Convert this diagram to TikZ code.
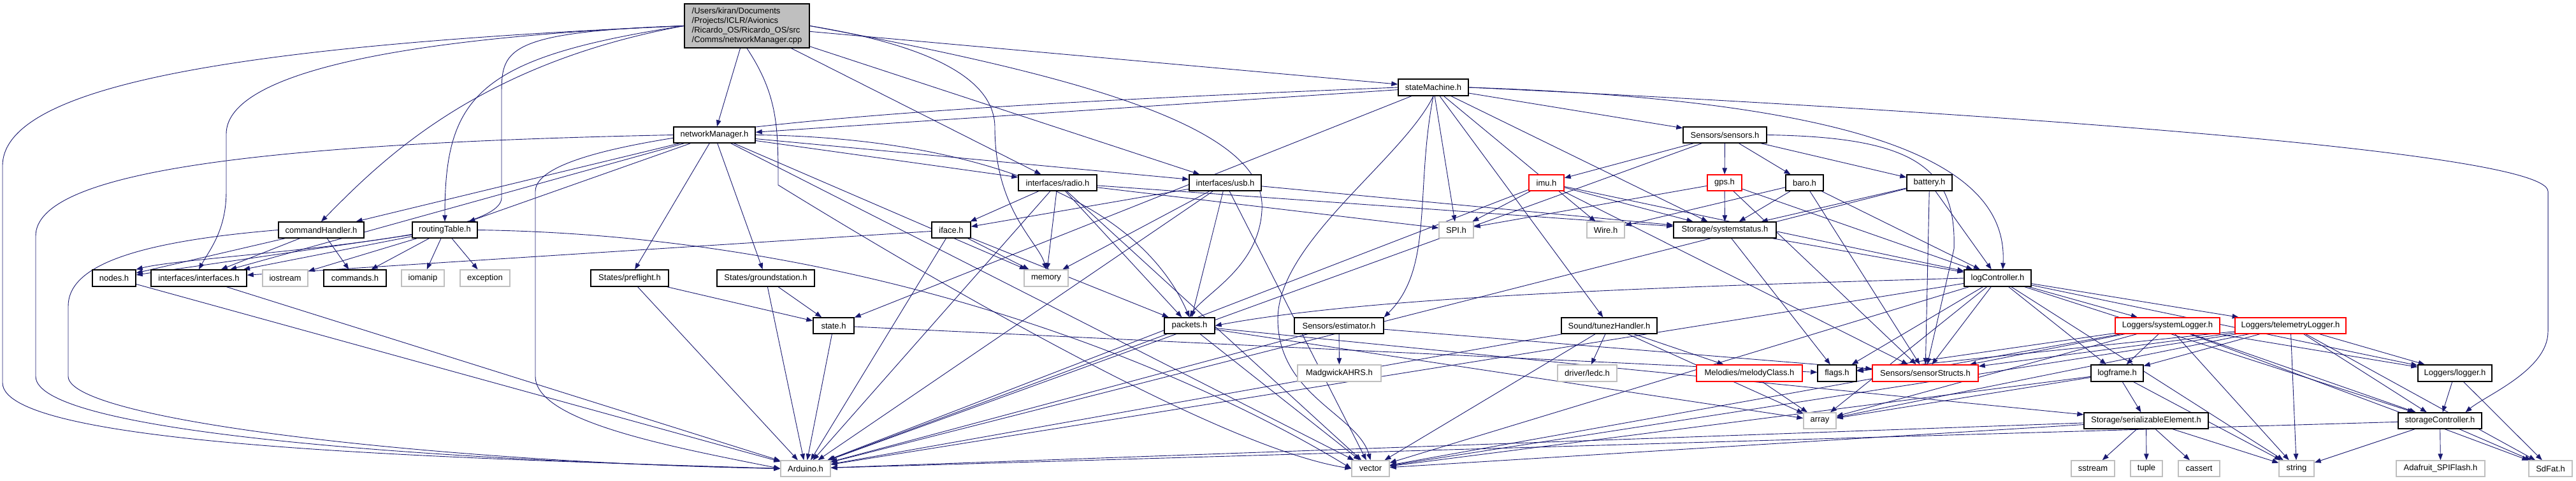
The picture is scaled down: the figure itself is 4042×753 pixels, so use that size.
\documentclass[tikz,border=0pt]{standalone}
\usepackage{fontspec}
\setmainfont{Liberation Sans}
\usetikzlibrary{arrows.meta}
\definecolor{edgec}{HTML}{191970}
\definecolor{grayb}{HTML}{BFBFBF}
\pgfdeclarelayer{edges}
\pgfsetlayers{edges,main}
\tikzset{
  box/.style={draw=black,line width=1.4pt,fill=white,inner sep=0pt,font=\fontsize{13}{15}\selectfont},
  gbox/.style={box,draw=grayb},
  rbox/.style={box,draw=red},
  rootbox/.style={box,fill=grayb,align=left},
  e/.style={draw=edgec,line width=0.9pt,-{Triangle[length=10pt,width=7.5pt]}},
}
\newcommand{\hnode}[7][box]{\node[#1,minimum width={#5-#4},minimum height={#7-#6}] (#2) at ({(#4+#5)/2},{(#6+#7)/2}) {#3};}
\begin{document}
\begin{tikzpicture}[x=1pt,y=-1pt]
\useasboundingbox (0,0) rectangle (4042,753);
% ---------------- nodes
\hnode[rootbox]{r}{/Users/kiran/Documents\\/Projects/ICLR/Avionics\\/Ricardo\_OS/Ricardo\_OS/src\\/Comms/networkManager.cpp}{1074}{1270}{6}{75}
\hnode{sm}{stateMachine.h}{2194}{2304}{124}{150}
\hnode{nm}{networkManager.h}{1057}{1185}{199}{224}
\hnode{sens}{Sensors/sensors.h}{2641}{2772}{199}{224}
\hnode{radio}{interfaces/radio.h}{1598}{1721}{274}{299}
\hnode{usb}{interfaces/usb.h}{1866}{1979}{274}{299}
\hnode[rbox]{imu}{imu.h}{2399}{2454}{274}{299}
\hnode[rbox]{gps}{gps.h}{2679}{2733}{274}{299}
\hnode{baro}{baro.h}{2802}{2861}{274}{299}
\hnode{bat}{battery.h}{2992}{3063}{274}{299}
\hnode{ch}{commandHandler.h}{437}{571}{348}{373}
\hnode{rt}{routingTable.h}{647}{749}{348}{373}
\hnode{iface}{iface.h}{1462}{1523}{348}{373}
\hnode[gbox]{spi}{SPI.h}{2258}{2312}{348}{373}
\hnode[gbox]{wire}{Wire.h}{2490}{2549}{348}{373}
\hnode{sys}{Storage/systemstatus.h}{2626}{2787}{348}{373}
\hnode{nodes}{nodes.h}{145}{213}{423}{449}
\hnode{ifs}{interfaces/interfaces.h}{237}{387}{423}{449}
\hnode[gbox]{iostr}{iostream}{412}{483}{423}{449}
\hnode{cmds}{commands.h}{508}{606}{423}{449}
\hnode[gbox]{iomanip}{iomanip}{630}{697}{423}{449}
\hnode[gbox]{exc}{exception}{722}{800}{423}{449}
\hnode{pre}{States/preflight.h}{927}{1049}{423}{449}
\hnode{gnd}{States/groundstation.h}{1125}{1278}{423}{449}
\hnode[gbox]{mem}{memory}{1607}{1676}{423}{449}
\hnode{log}{logController.h}{3082}{3187}{423}{449}
\hnode{state}{state.h}{1276}{1340}{498}{523}
\hnode{pkt}{packets.h}{1827}{1906}{498}{523}
\hnode{est}{Sensors/estimator.h}{2031}{2171}{498}{523}
\hnode{tunez}{Sound/tunezHandler.h}{2450}{2600}{498}{523}
\hnode[rbox]{syslog}{Loggers/systemLogger.h}{3319}{3483}{498}{523}
\hnode[rbox]{tellog}{Loggers/telemetryLogger.h}{3507}{3681}{498}{523}
\hnode[gbox]{madg}{MadgwickAHRS.h}{2036}{2167}{572}{598}
\hnode[gbox]{ledc}{driver/ledc.h}{2444}{2537}{572}{598}
\hnode[rbox]{melody}{Melodies/melodyClass.h}{2662}{2828}{572}{598}
\hnode{flags}{flags.h}{2852}{2913}{572}{598}
\hnode[rbox]{sstr}{Sensors/sensorStructs.h}{2938}{3104}{572}{598}
\hnode{lframe}{logframe.h}{3281}{3363}{572}{598}
\hnode{logger}{Loggers/logger.h}{3794}{3910}{572}{598}
\hnode[gbox]{array}{array}{2830}{2881}{647}{672}
\hnode{ser}{Storage/serializableElement.h}{3270}{3465}{647}{672}
\hnode{stc}{storageController.h}{3763}{3894}{647}{672}
\hnode[gbox]{ard}{Arduino.h}{1225}{1303}{722}{747}
\hnode[gbox]{vec}{vector}{2121}{2180}{722}{747}
\hnode[gbox]{sstream}{sstream}{3250}{3318}{722}{747}
\hnode[gbox]{tuple}{tuple}{3343}{3393}{722}{747}
\hnode[gbox]{cassert}{cassert}{3418}{3483}{722}{747}
\hnode[gbox]{string}{string}{3576}{3631}{722}{747}
\hnode[gbox]{ada}{Adafruit\_SPIFlash.h}{3760}{3899}{722}{747}
\hnode[gbox]{sdfat}{SdFat.h}{3968}{4036}{722}{747}
\begin{pgfonlayer}{edges}
% ---------------- edges: root
\draw[e] (r) -- (nm);
\draw[e] (r) -- (sm);
\draw[e] (r.west) .. controls (400,70) and (4,130) .. (4,260) -- (4,600) .. controls (4,700) and (700,718) .. (ard.west);
\draw[e] (r.west) .. controls (600,60) and (355,120) .. (355,210) -- (355,300) .. controls (355,360) and (330,390) .. (ifs.north);
\draw[e] (r.west) .. controls (787,50) and (787,80) .. (787,150) -- (787,310) .. controls (787,380) and (300,400) .. (nodes.north east);
\draw[e] (r.west) .. controls (750,100) and (600,250) .. (ch.north);
\draw[e] (r.west) .. controls (750,90) and (698,150) .. (rt.north);
\draw[e] (r.east) .. controls (1450,70) and (1561,120) .. (1561,200) .. controls (1561,330) and (1630,380) .. (mem.north);
\draw[e] (r) -- (radio);
\draw[e] (r) -- (usb);
\draw[e] (r.east) .. controls (1700,120) and (1990,200) .. (1980,330) .. controls (1975,420) and (1890,460) .. (pkt.north);
\draw[e] (r.south) .. controls (1221,150) and (1221,200) .. (1221,290) .. controls (1400,400) and (1900,700) .. (vec.west);
% networkManager
\draw[e] (nm.west) .. controls (400,225) and (56,270) .. (56,370) -- (56,590) .. controls (56,680) and (700,722) .. (ard.west);
\draw[e] (nm) -- (ch);
\draw[e] (nm) -- (rt);
\draw[e] (nm) -- (ifs);
\draw[e] (nm) -- (pre);
\draw[e] (nm) -- (gnd);
\draw[e] (nm) -- (radio);
\draw[e] (nm) -- (usb);
\draw[e] (nm.east) .. controls (1500,215) and (1780,300) .. (pkt.north);
\draw[e] (nm) -- (mem);
\draw[e] (nm) -- (vec);
% stateMachine
\draw[e] (sm) -- (nm);
\draw[e] (sm.west) .. controls (1500,165) and (840,200) .. (840,300) -- (840,590) .. controls (840,660) and (1050,700) .. (ard.west);
\draw[e] (sm) -- (state);
\draw[e] (sm.south) .. controls (2200,250) and (2005,380) .. (2005,500) .. controls (2005,620) and (2130,650) .. (vec.north);
\draw[e] (sm.south) .. controls (2220,300) and (2250,420) .. (est.north east);
\draw[e] (sm) -- (spi);
\draw[e] (sm) -- (wire);
\draw[e] (sm) -- (sys);
\draw[e] (sm) -- (sens);
\draw[e] (sm.east) .. controls (3000,160) and (3150,280) .. ([xshift=8pt]log.north);
\draw[e] (sm.east) .. controls (2900,165) and (3998,230) .. (3998,300) -- (3998,520) .. controls (3998,580) and (3900,620) .. ([xshift=40pt]stc.north);
\draw[e] (sm) -- (tunez);
% commandHandler, routingTable
\draw[e] (ch) -- (nodes);
\draw[e] (ch) -- (ifs);
\draw[e] (ch) -- (cmds);
\draw[e] (ch.west) .. controls (200,380) and (107,420) .. (107,480) -- (107,590) .. controls (107,660) and (700,725) .. (ard.west);
\draw[e] (rt) -- (nodes);
\draw[e] (rt) -- (ifs);
\draw[e] (rt) -- (iostr);
\draw[e] (rt) -- (iomanip);
\draw[e] (rt) -- (exc);
\draw[e] (rt) -- (cmds);
\draw[e] (rt.east) .. controls (1400,370) and (1900,600) .. (vec.west);
% iface, radio, usb
\draw[e] (iface) -- (ifs);
\draw[e] (iface) -- (mem);
\draw[e] (iface) -- (pkt);
\draw[e] (iface) -- (ard);
\draw[e] (radio) -- (iface);
\draw[e] (radio) -- (mem);
\draw[e] (radio) -- (pkt);
\draw[e] (radio) -- (spi);
\draw[e] (radio) -- (sys);
\draw[e] (radio) -- (vec);
\draw[e] (radio) -- (ard);
\draw[e] (usb) -- (iface);
\draw[e] (usb) -- (mem);
\draw[e] (usb) -- (pkt);
\draw[e] (usb) -- (sys);
\draw[e] (usb) -- (vec);
\draw[e] (usb) -- (ard);
% sensors
\draw[e] (sens) -- (imu);
\draw[e] (sens) -- (gps);
\draw[e] (sens) -- (baro);
\draw[e] (sens) -- (bat);
\draw[e] (sens) -- (ard);
\draw[e] (sens.east) .. controls (3000,215) and (3070,260) .. (3066,390) -- (sstr);
\draw[e] (imu) -- (spi);
\draw[e] (imu) -- (sys);
\draw[e] (imu) -- (sstr);
\draw[e] (imu) -- (log);
\draw[e] (imu) -- (ard);
\draw[e] (gps) -- (spi);
\draw[e] (gps) -- (sys);
\draw[e] (gps) -- (sstr);
\draw[e] (gps) -- (log);
\draw[e] (baro) -- (wire);
\draw[e] (baro) -- (sys);
\draw[e] (baro) -- (sstr);
\draw[e] (baro) -- (log);
\draw[e] (bat) -- (sys);
\draw[e] (bat) -- (sstr);
\draw[e] (bat) -- (log);
\draw[e] (bat) -- (ard);
\draw[e] (sys) -- (flags);
\draw[e] (sys) -- (log);
% logController
\draw[e] (log.west) .. controls (2600,450) and (2150,465) .. (pkt.east);
\draw[e] (log) -- (ard);
\draw[e] (log) -- (vec);
\draw[e] (log) -- (flags);
\draw[e] (log) -- (sstr);
\draw[e] (log) -- (array);
\draw[e] (log) -- (syslog);
\draw[e] (log) -- (tellog);
\draw[e] (log) -- (lframe);
\draw[e] (log) -- (logger);
\draw[e] (log) -- (stc);
\draw[e] (log) -- (string);
% loggers
\draw[e] (syslog) -- (lframe);
\draw[e] (syslog) -- (string);
\draw[e] (syslog) -- (sdfat);
\draw[e] (syslog) -- (stc);
\draw[e] (syslog) -- (logger);
\draw[e] (syslog) -- (array);
\draw[e] (syslog) -- (vec);
\draw[e] (syslog) -- (sstr);
\draw[e] (syslog) -- (flags);
\draw[e] (tellog) -- (lframe);
\draw[e] (tellog) -- (string);
\draw[e] (tellog) -- (stc);
\draw[e] (tellog) -- (logger);
\draw[e] (tellog) -- (sdfat);
\draw[e] (tellog) -- (array);
\draw[e] (tellog) -- (vec);
\draw[e] (tellog) -- (sstr);
\draw[e] (tellog) -- (flags);
\draw[e] (lframe) -- (ser);
\draw[e] (lframe) -- (string);
\draw[e] (lframe) -- (array);
\draw[e] (lframe) -- (vec);
\draw[e] (ser) -- (sstream);
\draw[e] (ser) -- (tuple);
\draw[e] (ser) -- (cassert);
\draw[e] (ser) -- (string);
\draw[e] (ser) -- (ard);
\draw[e] (ser) -- (vec);
\draw[e] (stc) -- (ada);
\draw[e] (stc) -- (sdfat);
\draw[e] (stc) -- (string);
\draw[e] (stc) -- (ard);
\draw[e] (logger) -- (stc);
\draw[e] (logger) -- (sdfat);
% estimator, tunez, packets, states
\draw[e] (est) -- (madg);
\draw[e] (est) -- (ard);
\draw[e] (est) -- (sstr);
\draw[e] (tunez) -- (ledc);
\draw[e] (tunez) -- (melody);
\draw[e] (tunez) -- (array);
\draw[e] (tunez) -- (vec);
\draw[e] (tunez) -- (ard);
\draw[e] (melody) -- (array);
\draw[e] (pkt) -- (ard);
\draw[e] (pkt) -- (vec);
\draw[e] (pkt) -- (ser);
\draw[e] (pkt) -- (array);
\draw[e] (state) -- (ard);
\draw[e] (state) -- (flags);
\draw[e] (pre) -- (state);
\draw[e] (pre) -- (ard);
\draw[e] (gnd) -- (state);
\draw[e] (gnd) -- (ard);
\draw[e] (nodes) -- (ard);
\draw[e] (ifs) -- (ard);
\end{pgfonlayer}
\end{tikzpicture}
\end{document}
